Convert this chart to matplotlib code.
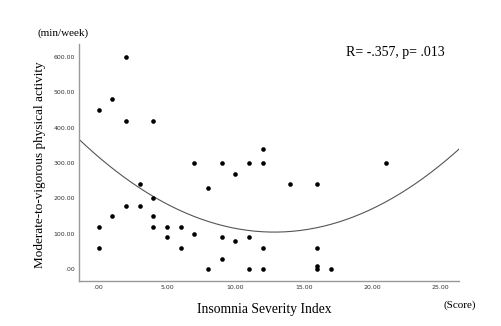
import numpy as np
import matplotlib.pyplot as plt

# insomnia severity index score vs MVPA (min/week)
isi = [0, 0, 0, 1, 1, 2, 2, 2, 3, 3, 4, 4, 4, 4, 5, 5, 6, 6,
       7, 7, 8, 8, 9, 9, 9, 10, 10, 11, 11, 11, 12, 12, 12, 12,
       14, 16, 16, 16, 16, 17, 21]
mvpa = [450, 120, 60, 480, 150, 600, 420, 180, 240, 180, 420, 200, 150, 120, 120, 90, 120, 60,
        300, 100, 230, 0, 300, 90, 30, 270, 80, 300, 90, 0, 340, 300, 60, 0,
        240, 240, 60, 10, 0, 0, 300]
# quadratic fit line as drawn in the original
fit_coef = [1.285, -33.02, 317.2]
xticks = [0, 5, 10, 15, 20, 25]
yticks = [0, 100, 200, 300, 400, 500, 600]

serif = 'Liberation Serif'

fig = plt.figure(figsize=(5.01, 3.26), dpi=100)
ax = fig.add_axes([0.1577, 0.138, 0.7585, 0.727])

ax.scatter(isi, mvpa, s=11, color='black', zorder=3, linewidths=0)

xs = np.linspace(-1.43, 26.35, 200)
ax.plot(xs, np.polyval(fit_coef, xs), color='#555555', lw=0.8)

ax.set_xlim(-1.43, 26.35)
ax.set_ylim(-33, 636)
ax.set_xticks(xticks)
ax.set_xticklabels(['.00' if t == 0 else '%.2f' % t for t in xticks])
ax.set_yticks(yticks)
ax.set_yticklabels(['.00' if t == 0 else '%.2f' % t for t in yticks])
ax.tick_params(length=0, labelsize=4.5, labelcolor='#333333', pad=3)

for s in ['top', 'right']:
    ax.spines[s].set_visible(False)
for s in ['left', 'bottom']:
    ax.spines[s].set_color('#999999')
    ax.spines[s].set_linewidth(1.0)

fig.text(0.528, 0.052, 'Insomnia Severity Index', family=serif, fontsize=9.8, ha='center', va='center')
fig.text(0.08, 0.494, 'Moderate-to-vigorous physical activity', family=serif, fontsize=9.5,
         rotation=90, ha='center', va='center')
fig.text(0.125, 0.899, '(min/week)', family=serif, fontsize=8, ha='center', va='center')
fig.text(0.917, 0.064, '(Score)', family=serif, fontsize=8, ha='center', va='center')
fig.text(0.789, 0.84, 'R= -.357, p= .013', family=serif, fontsize=10, ha='center', va='center')

fig.savefig('out.png', dpi=100)
